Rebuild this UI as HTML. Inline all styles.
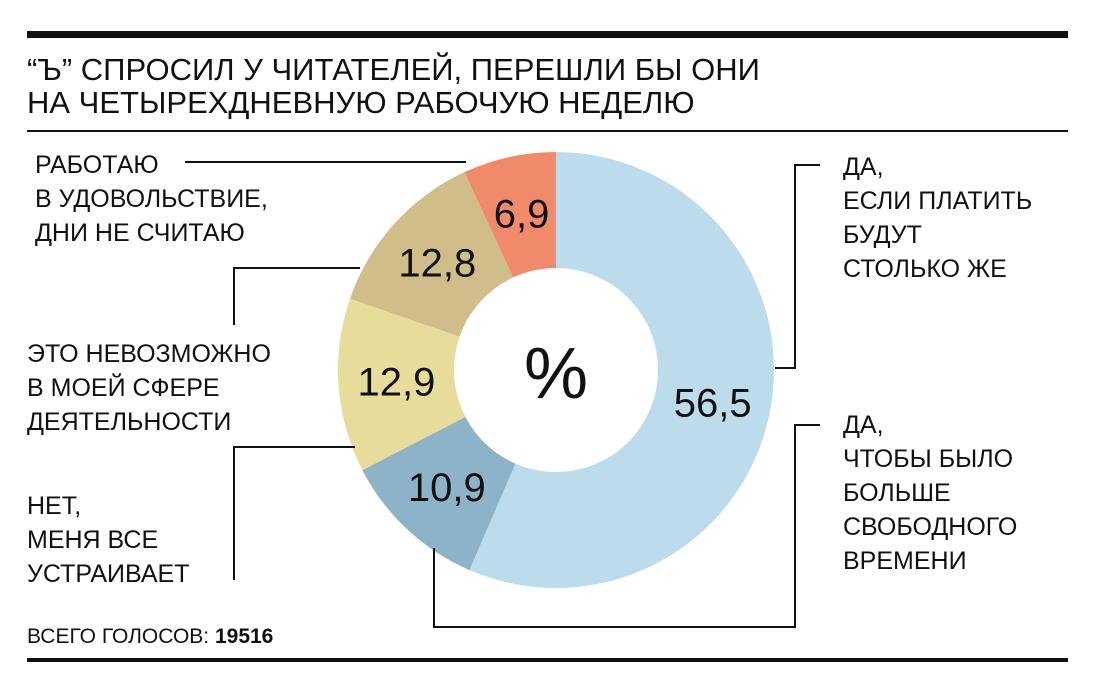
<!DOCTYPE html>
<html><head><meta charset="utf-8"><style>
body{margin:0;background:#fff;}
svg text{font-family:"Liberation Sans",sans-serif;fill:#111;}
</style></head><body>
<svg width="1097" height="690" viewBox="0 0 1097 690">
<rect x="27" y="31" width="1041" height="7" fill="#111"/>
<text x="27" y="80" font-size="31">“Ъ” СПРОСИЛ У ЧИТАТЕЛЕЙ, ПЕРЕШЛИ БЫ ОНИ</text>
<text x="27" y="113" font-size="31">НА ЧЕТЫРЕХДНЕВНУЮ РАБОЧУЮ НЕДЕЛЮ</text>
<rect x="27" y="130" width="1041" height="2" fill="#111"/>
<g id="donut"></g>
<text x="556" y="398" font-size="72" text-anchor="middle">%</text>
<g stroke="#111" stroke-width="2" fill="none">
<polyline points="185,162 466,162"/>
<polyline points="234,325 234,268 360,268"/>
<polyline points="234,580 234,447 355,447"/>
<polyline points="820,165 795,165 795,368 775,368"/>
<polyline points="820,425 795,425 795,627 434,627 434,548"/>
</g>
<g font-size="25">
<text><tspan x="35" y="173">РАБОТАЮ</tspan><tspan x="35" y="207">В УДОВОЛЬСТВИЕ,</tspan><tspan x="35" y="241">ДНИ НЕ СЧИТАЮ</tspan></text>
<text><tspan x="27" y="362">ЭТО НЕВОЗМОЖНО</tspan><tspan x="27" y="396">В МОЕЙ СФЕРЕ</tspan><tspan x="27" y="430">ДЕЯТЕЛЬНОСТИ</tspan></text>
<text><tspan x="27" y="514">НЕТ,</tspan><tspan x="27" y="548">МЕНЯ ВСЕ</tspan><tspan x="27" y="582">УСТРАИВАЕТ</tspan></text>
<text><tspan x="843" y="175">ДА,</tspan><tspan x="843" y="209">ЕСЛИ ПЛАТИТЬ</tspan><tspan x="843" y="243">БУДУТ</tspan><tspan x="843" y="277">СТОЛЬКО ЖЕ</tspan></text>
<text><tspan x="843" y="433">ДА,</tspan><tspan x="843" y="467">ЧТОБЫ БЫЛО</tspan><tspan x="843" y="501">БОЛЬШЕ</tspan><tspan x="843" y="535">СВОБОДНОГО</tspan><tspan x="843" y="569">ВРЕМЕНИ</tspan></text>
</g>
<text x="27" y="643" font-size="21">ВСЕГО ГОЛОСОВ: <tspan font-weight="bold">19516</tspan></text>
<rect x="27" y="658" width="1041" height="4" fill="#111"/>
</svg>
<script>
const categories=["Да, если платить столько же","Да, чтобы было больше свободного времени","Нет","Это невозможно","Работаю в удовольствие"];
const values=[56.5,10.9,12.9,12.8,6.9];
const valueLabels=["56,5","10,9","12,9","12,8","6,9"];
const colors=["#bcdcec","#8cb3c8","#e8dc9a","#d0bd8a","#f08a6a"];
const cx=556,cy=370,R=218,r=102;
const g=document.getElementById('donut');
const NS='http://www.w3.org/2000/svg';
const total=values.reduce((a,b)=>a+b,0);
function pt(rad,a){return [cx+rad*Math.sin(a),cy-rad*Math.cos(a)];}
let acc=0;
values.forEach((v,i)=>{
const a0=acc/total*2*Math.PI;acc+=v;const a1=acc/total*2*Math.PI;
const big=(a1-a0)>Math.PI?1:0;
const p1=pt(R,a0),p2=pt(R,a1),p3=pt(r,a1),p4=pt(r,a0);
const p=document.createElementNS(NS,'path');
p.setAttribute('d',`M${p1} A${R},${R} 0 ${big} 1 ${p2} L${p3} A${r},${r} 0 ${big} 0 ${p4} Z`);
p.setAttribute('fill',colors[i]);


g.appendChild(p);
const am=(a0+a1)/2;const lp=pt((R+r)/2,am);
const t=document.createElementNS(NS,'text');
t.setAttribute('x',lp[0]);t.setAttribute('y',lp[1]+14);
t.setAttribute('text-anchor','middle');t.setAttribute('font-size','40');
t.textContent=valueLabels[i];


g.appendChild(t);
});
</script>
</body></html>
